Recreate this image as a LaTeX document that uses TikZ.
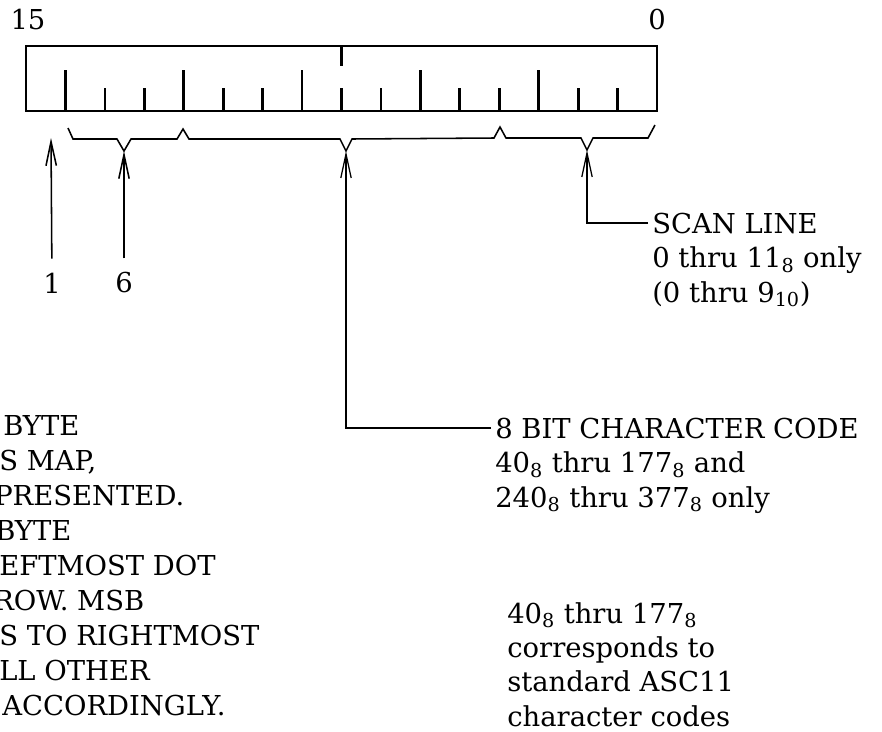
\documentclass[tikz,border=0pt]{standalone}
\usepackage{fontspec}
\setmainfont{DejaVu Serif}
\usetikzlibrary{arrows.meta}

\tikzset{
  note/.style={font=\fontsize{19.5}{24.4}\selectfont, inner sep=0pt, align=left},
  regline/.style={line width=2.1pt},
  tickline/.style={line width=1.9pt},
  braceline/.style={line width=1.1pt, line join=miter},
  pointer/.style={line width=1.1pt, ->},
}

\begin{document}
\begin{tikzpicture}[x=0.025cm, y=-0.025cm, >={Straight Barb[length=0.6cm, width=0.26cm]}]
	\useasboundingbox (0,0) rectangle (882,731);

	% 16 bit register
	\draw[regline] (26,46) rectangle (657,111);
	\draw[tickline] (65.4,111) -- (65.4,70) (183.8,111) -- (183.8,70) (302.1,111) -- (302.1,70)
		(420.4,111) -- (420.4,70) (538.7,111) -- (538.7,70);
	\draw[tickline] (104.9,111) -- (104.9,88) (144.3,111) -- (144.3,88) (223.2,111) -- (223.2,88)
		(262.6,111) -- (262.6,88) (341.5,111) -- (341.5,88) (381.0,111) -- (381.0,88)
		(459.8,111) -- (459.8,88) (499.3,111) -- (499.3,88) (578.2,111) -- (578.2,88)
		(617.6,111) -- (617.6,88);
	\draw[tickline] (341.5,46) -- (341.5,66);

	\node (msb) [note] at (28,20) {15};
	\node (lsb) [note] at (657,20) {0};

	% field braces
	\draw[braceline] (68,128) -- (73,139) -- (117,139) -- (124,151) -- (131,139) -- (177,139)
		-- (183,129) -- (189,139) -- (340,139) -- (346,151) -- (352,139) -- (494,138)
		-- (500,127) -- (506,138) -- (581,138) -- (587,150) -- (593,138) -- (648,138) -- (655,125);
	\coordinate (tip15) at (51,138);
	\coordinate (tipsix) at (124,151);
	\coordinate (tipchar) at (346,151);
	\coordinate (tipscan) at (587,150);

	% labels
	\node (one) [note] at (52,283) {1};
	\node (six) [note] at (124,283) {6};
	\node (scan) [note, anchor=north west] at (652,213)
		{SCAN LINE \\ 0 thru 11\textsubscript{8} only \\ (0 thru 9\textsubscript{10})};
	\node (char) [note, anchor=north west] at (495,418)
		{8 BIT CHARACTER CODE \\ 40\textsubscript{8} thru 177\textsubscript{8} and \\
		240\textsubscript{8} thru 377\textsubscript{8} only};
	\node (ascii) [note, anchor=north west] at (507,602)
		{40\textsubscript{8} thru 177\textsubscript{8} \\ corresponds to \\ standard ASC11 \\ character codes};

	% left note, cut off
	\node (l1) [note, anchor=base west] at (3,435) {BYTE};
	\node (l2) [note, anchor=base west] at (-1,470) {S MAP,};
	\node (l3) [note, anchor=base west] at (-6,505) {PRESENTED.};
	\node (l4) [note, anchor=base west] at (-5,540) {BYTE};
	\node (l5) [note, anchor=base west] at (-1,575) {EFTMOST DOT};
	\node (l6) [note, anchor=base west] at (-7,610) {ROW. MSB};
	\node (l7) [note, anchor=base west] at (-1,645) {S TO RIGHTMOST};
	\node (l8) [note, anchor=base west] at (-1,680) {LL OTHER};
	\node (l9) [note, anchor=base west] at (2,715) {ACCORDINGLY.};

	% pointers
	\path[pointer, shorten <=0.35cm] (one) edge (tip15);
	\path[pointer, shorten <=0.35cm] (six) edge (tipsix);
	\draw[pointer, line width=0.9pt] ([shift={(-4,10)}]char.north west) -| (tipchar);
	\draw[pointer, line width=0.9pt] ([shift={(-4,10)}]scan.north west) -| (tipscan);
\end{tikzpicture}
\end{document}
